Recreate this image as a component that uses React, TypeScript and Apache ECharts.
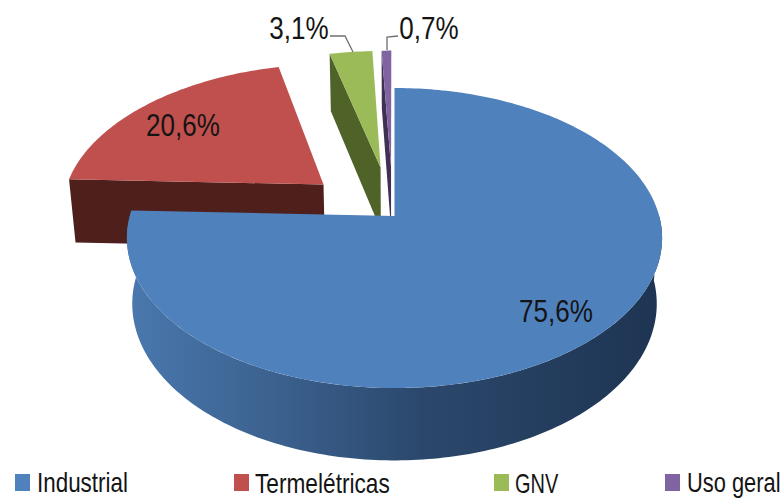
import React, { useEffect, useRef } from "react";
import * as echarts from "echarts";

const categories = ["Industrial", "Termelétricas", "GNV", "Uso geral"];
const shares = [75.6, 20.6, 3.1, 0.7];
const valueLabels = ["75,6%", "20,6%", "3,1%", "0,7%"];
const topColors = ["#4f81bd", "#c0504d", "#9bbb59", "#8064a2"];
const faceColors = ["#27415f", "#4f1f1c", "#4f6228", "#403152"];

const FONT = '"Liberation Sans", sans-serif';

// Perspective model of the tilted disc
const AX_MAIN = 394.5, AX_EXPLODED = 393, AY = 216, A = 264.7, B = 146.8, K = 0.1468;
const EXPLODE = 0.35, BASE_SCALE = 0.98, DEPTH = 66;

type P = [number, number];
function project(cx: number, u: number, v: number, low: boolean): P {
  const w = 1 + K * v;
  if (!low) return [cx + (A * u) / w, AY - (B * v) / w];
  return [cx + (BASE_SCALE * A * u) / w, AY + (BASE_SCALE * (-B * v + DEPTH)) / w];
}

function rad(d: number) { return (d * Math.PI) / 180; }

function sliceGeometry(i: number) {
  const total = shares.reduce((a, b) => a + b, 0);
  const before = shares.slice(0, i).reduce((a, b) => a + b, 0);
  const start = (before / total) * 360;
  const end = ((before + shares[i]) / total) * 360;
  const mid = rad((start + end) / 2);
  const d = i === 0 ? 0 : EXPLODE;
  return {
    start,
    end,
    cx: i === 0 ? AX_MAIN : AX_EXPLODED,
    ox: Math.sin(mid) * d,
    oy: Math.cos(mid) * d,
  };
}

function rimPoint(g: any, deg: number) {
  const a = rad(deg);
  return [g.ox + Math.sin(a), g.oy + Math.cos(a)] as P;
}

function arcPoints(g: any, from: number, to: number, low: boolean): P[] {
  const pts: P[] = [];
  const n = Math.max(2, Math.ceil(Math.abs(to - from)));
  for (let k = 0; k <= n; k++) {
    const [u, v] = rimPoint(g, from + ((to - from) * k) / n);
    pts.push(project(g.cx, u, v, low));
  }
  return pts;
}

const labelLayout: Record<number, { x: number; y: number; leader?: P[] }> = {
  0: { x: 556, y: 311 },
  1: { x: 183, y: 125 },
  2: { x: 299, y: 28, leader: [[330, 36], [345, 36], [353, 52]] },
  3: { x: 429, y: 28, leader: [[398, 36], [387, 37], [387, 50]] },
};

function makeRender(i: number) {
  return () => {
    const g = sliceGeometry(i);
    const children: any[] = [];
    if (i === 0) {
      const wall = [...arcPoints(g, 90, g.end, false), ...arcPoints(g, g.end, 90, true)];
      children.push({
        type: "polygon",
        shape: { points: wall },
        style: {
          fill: new echarts.graphic.LinearGradient(0, 0, 1, 0, [
            { offset: 0, color: "#4a78ae" },
            { offset: 0.3, color: "#3a5f8c" },
            { offset: 0.55, color: "#2b486c" },
            { offset: 1, color: "#1e3452" },
          ]),
        },
      });
    } else {
      const [outerU, outerV] = rimPoint(g, g.start);
      children.push({
        type: "polygon",
        shape: {
          points: [
            project(g.cx, g.ox, g.oy, false),
            project(g.cx, outerU, outerV, false),
            project(g.cx, outerU, outerV, true),
            project(g.cx, g.ox, g.oy, true),
          ],
        },
        style: { fill: faceColors[i] },
      });
    }
    children.push({
      type: "polygon",
      shape: { points: [project(g.cx, g.ox, g.oy, false), ...arcPoints(g, g.start, g.end, false)] },
      style: { fill: topColors[i] },
    });
    const lab = labelLayout[i];
    if (lab.leader) {
      children.push({
        type: "polyline",
        shape: { points: lab.leader },
        style: { fill: "none", stroke: "#6f6f6f", lineWidth: 1.3 },
      });
    }
    children.push({
      type: "text",
      x: lab.x,
      y: lab.y,
      scaleX: 0.84,
      style: {
        text: valueLabels[i],
        fill: "#141414",
        font: `31px ${FONT}`,
        align: "center",
        verticalAlign: "middle",
      },
    });
    return { type: "group", children };
  };
}

const legendSwatchX = [15, 234, 494, 665];
const legendTextX = [37, 255, 515, 687];
const legendScale = [0.83, 0.84, 0.74, 0.81];

export default function App() {
  const ref = useRef<HTMLDivElement>(null);
  useEffect(() => {
    const chart = echarts.init(ref.current!, undefined, { renderer: "svg" });
    chart.setOption({
      animation: false,
      backgroundColor: "#ffffff",
      graphic: categories.flatMap((name, i) => [
        {
          type: "rect",
          shape: { x: legendSwatchX[i], y: 474, width: 15, height: 17 },
          style: { fill: topColors[i] },
        },
        {
          type: "text",
          x: legendTextX[i],
          y: 483,
          scaleX: legendScale[i],
          style: {
            text: name,
            fill: "#141414",
            font: `27px ${FONT}`,
            align: "left",
            verticalAlign: "middle",
          },
        },
      ]),
      series: categories.map((name, i) => ({
        type: "custom",
        name,
        coordinateSystem: "none",
        silent: true,
        z: i === 0 ? 3 : 2,
        itemStyle: { color: topColors[i] },
        data: [shares[i]],
        renderItem: makeRender(i),
      })),
    });
    return () => chart.dispose();
  }, []);
  return <div ref={ref} style={{ position: "absolute", left: 0, top: 0, width: 783, height: 498 }} />;
}
